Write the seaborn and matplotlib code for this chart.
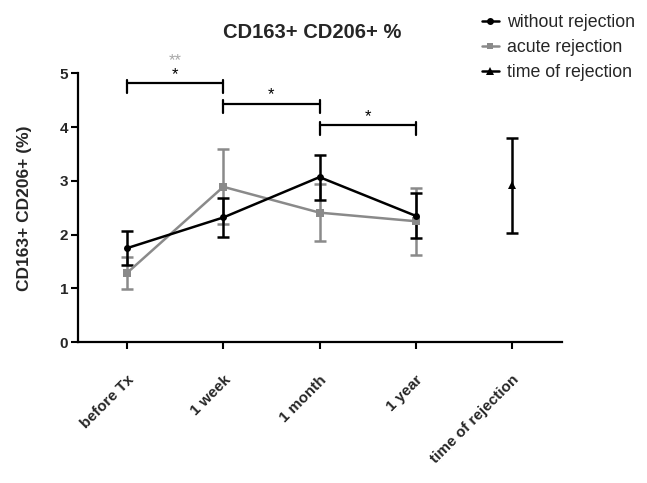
import matplotlib
matplotlib.use("Agg")
import matplotlib.pyplot as plt
import seaborn as sns
import pandas as pd
from matplotlib.lines import Line2D

# ---- data ----
timepoints = ["before Tx", "1 week", "1 month", "1 year", "time of rejection"]
without_mean = [1.75, 2.32, 3.07, 2.35]
without_err = [0.32, 0.36, 0.42, 0.42]
acute_mean = [1.29, 2.89, 2.41, 2.25]
acute_err = [0.30, 0.70, 0.53, 0.62]
rejection_mean = [2.92]
rejection_err = [0.88]
yticks = [0, 1, 2, 3, 4, 5]

sns.set_theme(style="ticks")
plt.rcParams['font.family'] = ['Liberation Sans', 'DejaVu Sans']

fig = plt.figure(figsize=(6.47, 4.83), dpi=100)
ax = fig.add_axes([0.1206, 0.2913, 0.748, 0.557])

black = "#000000"
gray = "#8a8a8a"

x_without = list(range(len(without_mean)))
x_acute = list(range(len(acute_mean)))
x_rej = [4]

df_w = pd.DataFrame({"x": x_without, "y": without_mean})
df_a = pd.DataFrame({"x": x_acute, "y": acute_mean})
df_r = pd.DataFrame({"x": x_rej, "y": rejection_mean})

ax.errorbar(x_without, without_mean, yerr=without_err, fmt="none", ecolor=black,
            elinewidth=1.8, capsize=4, capthick=1.8, zorder=3)
ax.errorbar(x_acute, acute_mean, yerr=acute_err, fmt="none", ecolor=gray,
            elinewidth=1.8, capsize=4, capthick=1.8, zorder=2)
ax.errorbar(x_rej, rejection_mean, yerr=rejection_err, fmt="none", ecolor=black,
            elinewidth=1.8, capsize=4, capthick=1.8, zorder=3)

sns.lineplot(data=df_a, x="x", y="y", ax=ax, color=gray, lw=1.8, marker="s",
             markersize=6, markeredgewidth=0, zorder=4)
sns.lineplot(data=df_w, x="x", y="y", ax=ax, color=black, lw=1.8, marker="o",
             markersize=5, markeredgewidth=0, zorder=5)
sns.lineplot(data=df_r, x="x", y="y", ax=ax, color=black, lw=1.8, marker="^",
             markersize=6, markeredgewidth=0, zorder=5)

ax.set_xlim(-0.51, 4.52)
ax.set_ylim(0, 5)
ax.set_yticks(yticks)
ax.set_yticklabels([str(t) for t in yticks], fontweight="bold", fontsize=11)
ax.set_xticks(range(len(timepoints)))
ax.set_xticklabels(timepoints, rotation=45, ha="right", rotation_mode="anchor",
                   fontweight="bold", fontsize=11)
ax.tick_params(axis="both", direction="out", length=5, width=1.5, color=black, pad=2)
ax.tick_params(axis="x", pad=17)
for s in ["top", "right"]:
    ax.spines[s].set_visible(False)
for s in ["left", "bottom"]:
    ax.spines[s].set_linewidth(1.6)
    ax.spines[s].set_color(black)
ax.set_xlabel("")
ax.set_ylabel("CD163+ CD206+ (%)", fontweight="bold", fontsize=12.5)
ax.yaxis.set_label_coords(-0.095, 0.5)

# significance brackets
brackets = [(0, 1, 4.81), (1, 2, 4.43), (2, 3, 4.03)]
for x0, x1, y in brackets:
    ax.plot([x0, x1], [y, y], color=black, lw=1.6, clip_on=False)
    for xe in (x0, x1):
        ax.plot([xe, xe], [y + 0.07, y - 0.17], color=black, lw=1.6, clip_on=False)
    ax.text((x0 + x1) / 2, y + 0.03, "*", ha="center", va="bottom", fontsize=12,
            color=black)
ax.text(0.5, 5.1, "**", ha="center", va="bottom", fontsize=12, color="#a8a8a8")

fig.text(312 / 647, 1 - 32 / 483, "CD163+ CD206+ %", ha="center", va="center",
         fontsize=14.5, fontweight="bold")

handles = [
    Line2D([], [], color=black, lw=1.8, marker="o", markersize=5, markeredgewidth=0),
    Line2D([], [], color=gray, lw=1.8, marker="s", markersize=5, markeredgewidth=0),
    Line2D([], [], color=black, lw=1.8, marker="^", markersize=6, markeredgewidth=0),
]
fig.legend(handles, ["without rejection", "acute rejection", "time of rejection"],
           loc="upper left", bbox_to_anchor=(0.725, 0.997), frameon=False,
           fontsize=12.8, handlelength=1.0, handletextpad=0.45, labelspacing=0.45,
           borderaxespad=0.3)

fig.savefig("out.png", dpi=100)
